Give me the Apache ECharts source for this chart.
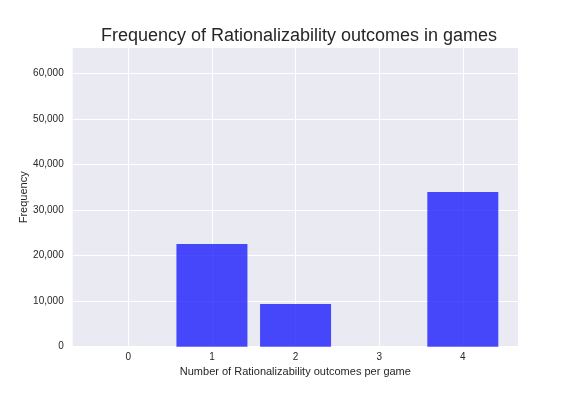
<!DOCTYPE html>
<html><head><meta charset="utf-8">
<script src="https://cdn.jsdelivr.net/npm/echarts@6/dist/echarts.min.js"></script>
<style>html,body{margin:0;padding:0;background:#fff}#c{width:576px;height:396px}</style>
</head><body><div id="c"></div>
<script>
const categories = [0, 1, 2, 3, 4];
const frequencies = [0, 22540, 9370, 0, 33950];
const yTicks = [0, 10000, 20000, 30000, 40000, 50000, 60000];
const titleText = 'Frequency of Rationalizability outcomes in games';
const xName = 'Number of Rationalizability outcomes per game';
const yName = 'Frequency';

const chart = echarts.init(document.getElementById('c'), null, {renderer: 'canvas'});
const font = 'Liberation Sans, Arial, sans-serif';
chart.setOption({
  animation: false,
  title: {text: titleText, left: 294, top: 22, textAlign: 'center',
    textStyle: {fontFamily: font, fontSize: 18, fontWeight: 'normal', color: '#262626'}},
  grid: {left: 72.7, right: 58, top: 48, bottom: 49.3, show: true, backgroundColor: '#EAEAF2', borderWidth: 0},
  xAxis: {
    type: 'value', min: -0.665, max: 4.66,
    name: xName, nameLocation: 'middle', nameGap: 20, nameMoveOverlap: false,
    nameTextStyle: {fontFamily: font, fontSize: 11, color: '#262626'},
    axisLine: {show: false},
    axisTick: {show: false, customValues: categories},
    axisLabel: {customValues: categories, fontFamily: font, fontSize: 10, color: '#262626', margin: 6},
    splitLine: {show: true, lineStyle: {color: '#ffffff', width: 1}}
  },
  yAxis: {
    type: 'value', min: 0, max: 65600,
    name: yName, nameLocation: 'middle', nameGap: 43, nameMoveOverlap: false,
    nameTextStyle: {fontFamily: font, fontSize: 11, color: '#262626'},
    axisLine: {show: false},
    axisTick: {show: false, customValues: yTicks},
    axisLabel: {customValues: yTicks, fontFamily: font, fontSize: 10, color: '#262626', margin: 9,
      formatter: v => v.toLocaleString('en-US')},
    splitLine: {show: true, lineStyle: {color: '#ffffff', width: 1}}
  },
  series: [{
    type: 'bar',
    data: categories.map((c, i) => [c, frequencies[i]]),
    barWidth: 71,
    itemStyle: {color: 'rgba(0,0,255,0.7)'}
  }]
});
</script></body></html>
